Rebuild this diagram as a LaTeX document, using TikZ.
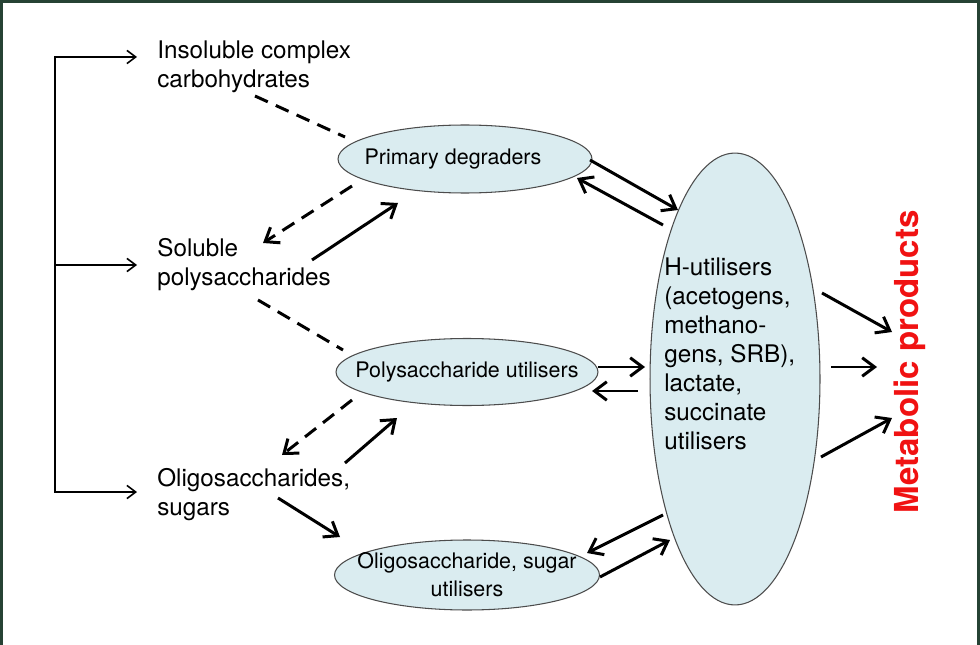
\documentclass[tikz,border=0pt]{standalone}
\usepackage{fontspec}
\setmainfont{TeX Gyre Heros}
\usetikzlibrary{arrows.meta,shapes.geometric}

\definecolor{cellblue}{RGB}{218,236,240}
\definecolor{framegreen}{RGB}{38,66,52}
\definecolor{prodred}{RGB}{240,18,18}

\tikzset{
  cell/.style={ellipse,draw=black!70,line width=0.6pt,fill=cellblue,inner sep=0pt},
  celltext/.style={align=center,inner sep=0pt,font=\fontsize{12.2}{15.9}\selectfont},
  lbl/.style={align=left,inner sep=0pt,anchor=west,font=\fontsize{13.8}{16.5}\selectfont},
  feed/.style={line width=0.9pt,>={Straight Barb[length=5pt,width=7.5pt]}},
  flow/.style={line width=1.7pt,>={Straight Barb[length=7pt,width=10.5pt]},->},
  hint/.style={flow,dash pattern=on 8pt off 5pt},
  link/.style={line width=1.7pt,dash pattern=on 8pt off 5pt}
}

\begin{document}
\begin{tikzpicture}[x=0.02cm,y=-0.02cm]
\useasboundingbox (0,0) rectangle (980,645);
\draw[framegreen,line width=1.8pt] (1.5,700) -- (1.5,1.5) -- (978.5,1.5) -- (978.5,700);

% substrates
\node[lbl] (ins) at (157,67) {Insoluble complex\\carbohydrates};
\node[lbl] (sol) at (157,265) {Soluble\\polysaccharides};
\node[lbl] (olig) at (157,495) {Oligosaccharides,\\sugars};

% degrader groups
\node[cell,minimum width=5.08cm,minimum height=1.36cm,
  label={[celltext,xshift=-0.24cm]center:Primary degraders}] (prim) at (465,159) {};
\node[cell,minimum width=5.24cm,minimum height=1.34cm,
  label={[celltext]center:Polysaccharide utilisers}] (poly) at (467,372) {};
\node[cell,minimum width=5.3cm,minimum height=1.4cm,
  label={[celltext]center:{Oligosaccharide, sugar\\utilisers}}] (oligo) at (467,575) {};

% hydrogen and lactate users
\node[cell,minimum width=3.4cm,minimum height=9.04cm] (hut) at (735,379) {};
\node[lbl] (hutxt) at (664,354) {H-utilisers\\(acetogens,\\methano-\\gens, SRB),\\lactate,\\succinate\\utilisers};

\node[rotate=90,text=prodred,font=\fontsize{18.8}{22}\selectfont\bfseries] (met) at (910,362) {Metabolic products};

% supply bracket
\coordinate (trunk) at (55,265);
\draw[feed,<->] ([shift={(-20,-10)}]ins.west) -| (trunk) |- ([shift={(-20,-3)}]olig.west);
\draw[feed,->] (trunk) -- ([shift={(-20,0)}]sol.west);

% substrates <-> degraders
\draw[link] ([shift={(98,29)}]ins.west) -- ([shift={(-120,-22)}]prim.center);
\draw[hint] ([shift={(-113,27)}]prim.center) -- ([shift={(106,-22)}]sol.west);
\draw[flow] ([shift={(155,-5)}]sol.west) -- ([shift={(-67,44)}]prim.center);
\draw[link] ([shift={(101,35)}]sol.west) -- ([shift={(-124,-22)}]poly.center);
\draw[hint] ([shift={(-115,28)}]poly.center) -- ([shift={(125,-40)}]olig.west);
\draw[flow] ([shift={(188,-32)}]olig.west) -- ([shift={(-70,46)}]poly.center);
\draw[flow] ([shift={(121,3)}]olig.west) -- ([shift={(-127,-38)}]oligo.center);

% exchange with the H-utilisers
\draw[flow] ([shift={(125,1)}]prim.center) -- ([shift={(-57,-169)}]hut.center);
\draw[flow] ([shift={(-72,-154)}]hut.center) -- ([shift={(112,19)}]prim.center);
\draw[flow] ([shift={(131,-5)}]poly.center) -- ([shift={(-90,-12)}]hut.center);
\draw[flow] ([shift={(-97,12)}]hut.center) -- ([shift={(125,19)}]poly.center);
\draw[flow] ([shift={(-72,136)}]hut.center) -- ([shift={(120,-22)}]oligo.center);
\draw[flow] ([shift={(133,2)}]oligo.center) -- ([shift={(-65,161)}]hut.center);

% products
\draw[flow] ([shift={(87,-86)}]hut.center) -- ([shift={(-18,-30)}]met.center);
\draw[flow] ([shift={(96,-12)}]hut.center) -- ([shift={(-33,5)}]met.center);
\draw[flow] ([shift={(86,78)}]hut.center) -- ([shift={(-18,56)}]met.center);
\end{tikzpicture}
\end{document}
